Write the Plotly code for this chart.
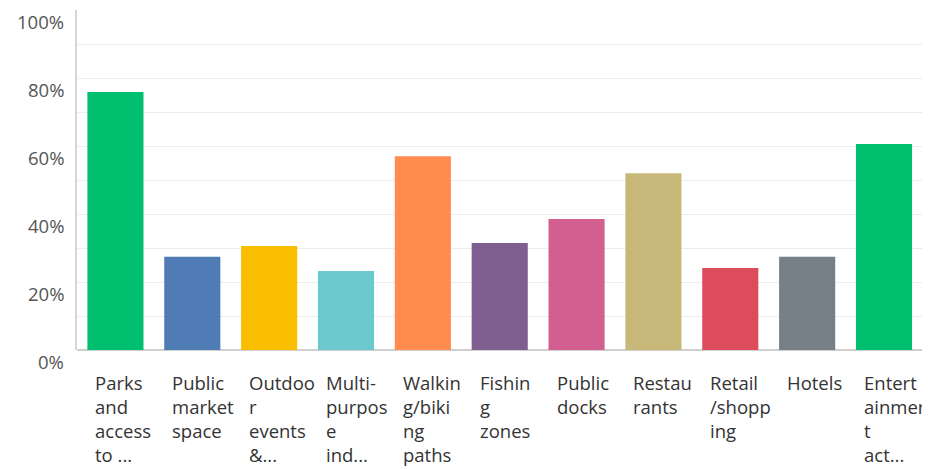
import plotly.graph_objects as go

categories = ["Parks and access to ...", "Public market space", "Outdoor events &...",
              "Multi-purpose ind...", "Walking/biking paths", "Fishing zones",
              "Public docks", "Restaurants", "Retail/shopping", "Hotels",
              "Entertainment act..."]
label_lines = ["Parks<br>and<br>access<br>to ...", "Public<br>market<br>space",
               "Outdoo<br>r<br>events<br>&...", "Multi-<br>purpos<br>e<br>ind...",
               "Walkin<br>g/biki<br>ng<br>paths", "Fishin<br>g<br>zones",
               "Public<br>docks", "Restau<br>rants", "Retail<br>/shopp<br>ing",
               "Hotels", "Entert<br>ainmer<br>t<br>act..."]
values = [75.9, 27.4, 30.6, 23.2, 57.0, 31.5, 38.5, 52.0, 24.1, 27.4, 60.6]
colors = ["#00bf6f", "#507cb6", "#f9be00", "#6bc8cd", "#ff8b4f", "#7f5f90",
          "#d25f90", "#c7b879", "#dc4c5c", "#768086", "#00bf6f"]
y_ticks = [0, 20, 40, 60, 80, 100]
y_tick_labels = ["0%", "20%", "40%", "60%", "80%", "100%"]

fig = go.Figure(go.Bar(x=categories, y=values, marker=dict(color=colors, line=dict(width=0)),
                       hoverinfo="skip"))

font_family = "Open Sans, Noto Sans, sans-serif"
annotations = []
for cat, lab in zip(categories, label_lines):
    annotations.append(dict(x=cat, xref="x", y=0, yref="paper", yanchor="top",
                            xanchor="left", align="left", xshift=-21, yshift=-19,
                            text=lab, showarrow=False, borderpad=0,
                            font=dict(family=font_family, size=18.5, color="#333333")))
for v, t in zip(y_ticks, y_tick_labels):
    annotations.append(dict(x=0, xref="paper", y=v, yref="y", xanchor="right",
                            yanchor="top", xshift=-12, yshift=2, text=t, showarrow=False,
                            borderpad=0,
                            font=dict(family=font_family, size=18.5, color="#555555")))

fig.update_layout(
    width=922, height=461,
    margin=dict(l=69, r=3, t=2, b=119),
    paper_bgcolor="white", plot_bgcolor="white",
    bargap=0.27,
    showlegend=False,
    annotations=annotations,
    xaxis=dict(showticklabels=False, showgrid=False, showline=False, zeroline=False),
    yaxis=dict(range=[0, 100], tickvals=y_ticks, showticklabels=False,
               showgrid=True, gridcolor="#ececec", gridwidth=1,
               minor=dict(dtick=10, tick0=0, showgrid=True, gridcolor="#ececec"),
               zeroline=True, zerolinecolor="#cfcfcf", zerolinewidth=1.5,
               showline=True, linecolor="#d6d6d6", linewidth=1.5),
)

fig.write_html("out.html")
